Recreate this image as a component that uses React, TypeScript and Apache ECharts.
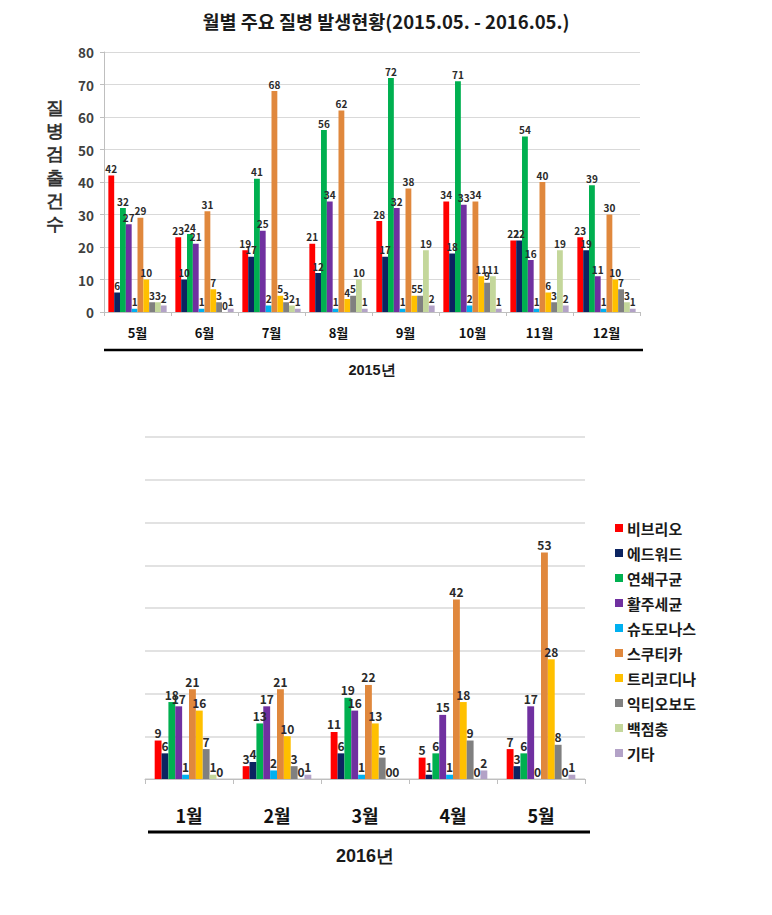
import React, { useEffect, useRef } from "react";
import * as echarts from "echarts";

const seriesNames = ["비브리오", "에드워드", "연쇄구균", "활주세균", "슈도모나스", "스쿠티카", "트리코디나", "익티오보도", "백점충", "기타"];
const colors = ["#FF0000", "#0C2461", "#00B050", "#7030A0", "#00B0F0", "#E0883D", "#FFC000", "#808080", "#C4D79B", "#B3A2C7"];

const months2015 = ["5월", "6월", "7월", "8월", "9월", "10월", "11월", "12월"];
const months2016 = ["1월", "2월", "3월", "4월", "5월"];

// values per series (order = seriesNames), per month
const vibrio2015 = [42, 23, 19, 21, 28, 34, 22, 23];
const edward2015 = [6, 10, 17, 12, 17, 18, 22, 19];
const strepto2015 = [32, 24, 41, 56, 72, 71, 54, 39];
const flexi2015 = [27, 21, 25, 34, 32, 33, 16, 11];
const pseudo2015 = [1, 1, 2, 1, 1, 2, 1, 1];
const scuti2015 = [29, 31, 68, 62, 38, 34, 40, 30];
const tricho2015 = [10, 7, 5, 4, 5, 11, 6, 10];
const ichthyo2015 = [3, 3, 3, 5, 5, 9, 3, 7];
const whitespot2015 = [3, 0, 2, 10, 19, 11, 19, 3];
const etc2015 = [2, 1, 1, 1, 2, 1, 2, 1];

const vibrio2016 = [9, 3, 11, 5, 7];
const edward2016 = [6, 4, 6, 1, 3];
const strepto2016 = [18, 13, 19, 6, 6];
const flexi2016 = [17, 17, 16, 15, 17];
const pseudo2016 = [1, 2, 1, 1, 0];
const scuti2016 = [21, 21, 22, 42, 53];
const tricho2016 = [16, 10, 13, 18, 28];
const ichthyo2016 = [7, 3, 5, 9, 8];
const whitespot2016 = [1, 0, 0, 0, 0];
const etc2016 = [0, 1, 0, 2, 1];

const data2015 = [vibrio2015, edward2015, strepto2015, flexi2015, pseudo2015, scuti2015, tricho2015, ichthyo2015, whitespot2015, etc2015];
const data2016 = [vibrio2016, edward2016, strepto2016, flexi2016, pseudo2016, scuti2016, tricho2016, ichthyo2016, whitespot2016, etc2016];

const yTicks = { min: 0, max: 80, interval: 10 };
const FONT = "'Noto Sans CJK KR', 'Noto Sans', sans-serif";

export default function App() {
  const ref = useRef<HTMLDivElement>(null);
  useEffect(() => {
    if (!ref.current) return;
    const chart = echarts.init(ref.current, null, { renderer: "svg" });
    const series: any[] = [];
    seriesNames.forEach((name, i) => {
      series.push({
        name,
        type: "bar",
        xAxisIndex: 0,
        yAxisIndex: 0,
        data: data2015[i],
        itemStyle: { color: colors[i] },
        barGap: "0%",
        barCategoryGap: "13%",
        label: { show: true, position: "top", distance: 2, fontSize: 10, fontWeight: "bold", color: "#2a2a2a", fontFamily: FONT },
      });
    });
    seriesNames.forEach((name, i) => {
      series.push({
        name,
        type: "bar",
        xAxisIndex: 1,
        yAxisIndex: 1,
        data: data2016[i],
        itemStyle: { color: colors[i] },
        barGap: "0%",
        barCategoryGap: "22%",
        label: { show: true, position: "top", distance: 2, fontSize: 12, fontWeight: "bold", color: "#2a2a2a", fontFamily: FONT },
      });
    });

    chart.setOption({
      animation: false,
      textStyle: { fontFamily: FONT },
      title: {
        text: "월별 주요 질병 발생현황(2015.05. - 2016.05.)",
        left: "center",
        top: 7,
        textStyle: { fontSize: 18.5, fontWeight: "bold", color: "#1a1a1a", fontFamily: FONT },
      },
      legend: {
        orient: "vertical",
        left: 610,
        top: 514,
        itemWidth: 8,
        itemHeight: 8,
        itemGap: 7,
        icon: "rect",
        data: seriesNames,
        textStyle: { fontSize: 15, fontWeight: "bold", color: "#1a1a1a", lineHeight: 18, padding: [0, 0, 0, -1], fontFamily: FONT },
      },
      grid: [
        { left: 104, top: 52, width: 536, height: 260 },
        { left: 145, top: 437, width: 440, height: 342 },
      ],
      xAxis: [
        {
          type: "category",
          gridIndex: 0,
          data: months2015,
          axisLine: { lineStyle: { color: "#BFBFBF" } },
          axisTick: { show: true, length: 4, lineStyle: { color: "#BFBFBF" } },
          axisLabel: { fontSize: 13, fontWeight: "bold", color: "#111", margin: 14, fontFamily: FONT },
        },
        {
          type: "category",
          gridIndex: 1,
          data: months2016,
          axisLine: { lineStyle: { color: "#BFBFBF" } },
          axisTick: { show: true, length: 5, lineStyle: { color: "#BFBFBF" } },
          axisLabel: { fontSize: 18, fontWeight: "bold", color: "#111", margin: 27, fontFamily: FONT },
        },
      ],
      yAxis: [
        {
          type: "value",
          gridIndex: 0,
          ...yTicks,
          axisLine: { show: true, lineStyle: { color: "#BFBFBF" } },
          axisTick: { show: true, length: 4, lineStyle: { color: "#BFBFBF" } },
          axisLabel: { fontSize: 13.5, fontWeight: "bold", color: "#404040", margin: 10, fontFamily: FONT },
          splitLine: { lineStyle: { color: "#D9D9D9", width: 1 } },
        },
        {
          type: "value",
          gridIndex: 1,
          ...yTicks,
          axisLine: { show: false },
          axisTick: { show: false },
          axisLabel: { show: false },
          splitLine: { lineStyle: { color: "#D9D9D9", width: 1.5 } },
        },
      ],
      series,
      graphic: [
        {
          type: "text",
          left: 46,
          top: 96,
          style: { text: "질\n병\n검\n출\n건\n수", fontSize: 18, fontWeight: "bold", fill: "#333", lineHeight: 23.3, font: `bold 18px ${FONT}` },
        },
        { type: "line", shape: { x1: 104, y1: 350, x2: 643, y2: 350 }, style: { stroke: "#000", lineWidth: 2.5 } },
        {
          type: "text",
          x: 372,
          y: 370,
          style: { text: "2015년", fontSize: 14.5, fontWeight: "bold", fill: "#1a1a1a", align: "center", verticalAlign: "middle", font: `bold 14.5px ${FONT}` },
        },
        { type: "line", shape: { x1: 148, y1: 832, x2: 590, y2: 832 }, style: { stroke: "#000", lineWidth: 3 } },
        {
          type: "text",
          x: 365,
          y: 856,
          style: { text: "2016년", fontSize: 18, fontWeight: "bold", fill: "#1a1a1a", align: "center", verticalAlign: "middle", font: `bold 18px ${FONT}` },
        },
      ],
    });
    return () => chart.dispose();
  }, []);
  return <div ref={ref} style={{ position: "absolute", left: 0, top: 0, width: 772, height: 915, background: "#fff" }} />;
}
